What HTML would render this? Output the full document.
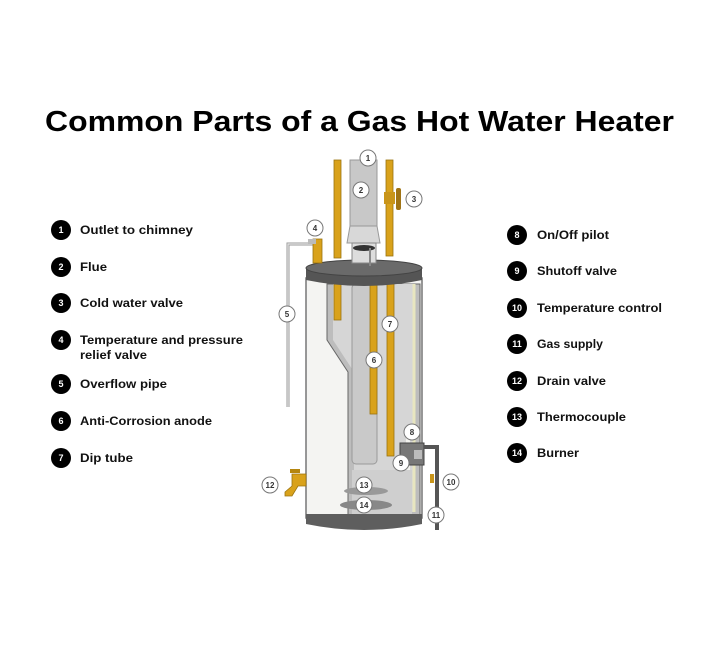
<!DOCTYPE html>
<html><head><meta charset="utf-8"><style>
html,body{margin:0;padding:0;background:#fff;width:720px;height:647px;overflow:hidden}
svg{display:block}
.t{font-family:"Liberation Sans",sans-serif;font-weight:bold;font-size:11.5px;fill:#111}
.n{font-family:"Liberation Sans",sans-serif;font-weight:bold;font-size:9px;fill:#fff;text-anchor:middle}
.m{font-family:"Liberation Sans",sans-serif;font-weight:bold;font-size:8px;fill:#333;text-anchor:middle}
</style></head><body>
<svg width="720" height="647" viewBox="0 0 720 647" xmlns="http://www.w3.org/2000/svg">
<text x="45" y="131" textLength="629" lengthAdjust="spacingAndGlyphs" font-family="Liberation Sans,sans-serif" font-weight="bold" font-size="29" fill="#000">Common Parts of a Gas Hot Water Heater</text>

<!-- overflow pipe -->
<path d="M313 244 H288 V407" fill="none" stroke="#999" stroke-width="3"/>
<path d="M313 244 H288 V407" fill="none" stroke="#e6e6e6" stroke-width="1.2"/>

<!-- body -->
<rect x="306" y="278" width="116" height="240" fill="#f4f4f2" stroke="#777" stroke-width="1.5"/>
<!-- cutaway -->
<path d="M327 284 H420 V516 H348 V372 L327 340 Z" fill="#bdbdbd" stroke="#666" stroke-width="1"/>
<path d="M333 284 H414 V512 H354 V372 L333 340 Z" fill="#d6d6d6"/>
<path d="M414 284 V512" stroke="#e8e6c0" stroke-width="3"/>
<path d="M408 430 V512" stroke="#f2f2ee" stroke-width="4"/>
<!-- flue inside -->
<rect x="352" y="284" width="25" height="180" rx="4" fill="#c9c9c9" stroke="#999" stroke-width="1"/>
<!-- burner area -->
<rect x="352" y="470" width="60" height="44" fill="#cfcfcf"/>
<ellipse cx="366" cy="491" rx="22" ry="4" fill="#999"/>
<ellipse cx="366" cy="505" rx="26" ry="5" fill="#888"/>
<!-- bottom band -->
<path d="M306 514 H422 V524 Q364 536 306 524 Z" fill="#5e5e5e"/>

<!-- inner pipes -->
<rect x="334" y="284" width="7" height="36" fill="#d9a21b" stroke="#9a7410" stroke-width="0.8"/>
<rect x="370" y="284" width="7" height="130" fill="#d9a21b" stroke="#9a7410" stroke-width="0.8"/>
<rect x="387" y="284" width="7" height="172" fill="#d9a21b" stroke="#9a7410" stroke-width="0.8"/>

<!-- lid -->
<path d="M306 268 V280 Q364 292 422 280 V268 Z" fill="#555"/>
<ellipse cx="364" cy="268" rx="58" ry="8" fill="#6a6a6a" stroke="#444" stroke-width="1"/>

<!-- flue above -->
<rect x="350" y="160" width="27" height="66" fill="#c8c8c8" stroke="#999" stroke-width="1"/>
<path d="M350 226 L347 243 H380 L377 226 Z" fill="#d8d8d8" stroke="#999" stroke-width="1"/>
<rect x="352" y="243" width="24" height="20" fill="#ddd" stroke="#888" stroke-width="1"/>
<ellipse cx="364" cy="248" rx="11" ry="3" fill="#333"/>
<rect x="369" y="248" width="2" height="18" fill="#888"/>
<!-- outer pipes -->
<rect x="334" y="160" width="7" height="98" fill="#d9a21b" stroke="#9a7410" stroke-width="0.8"/>
<rect x="386" y="160" width="7" height="96" fill="#d9a21b" stroke="#9a7410" stroke-width="0.8"/>
<rect x="384" y="192" width="11" height="12" fill="#c9951a"/>
<rect x="396" y="188" width="5" height="22" rx="2" fill="#a07415"/>
<!-- T&P valve -->
<rect x="313" y="239" width="9" height="24" fill="#d9a21b" stroke="#9a7410" stroke-width="0.8"/>
<rect x="308" y="239" width="8" height="5" fill="#bbb"/>

<!-- drain valve -->
<path d="M306 474 H292 V486 L285 492 V496 H292 L298 486 H306 Z" fill="#d9a21b" stroke="#9a7410" stroke-width="0.8"/>
<rect x="290" y="469" width="10" height="4" fill="#b5860f"/>

<!-- gas control -->
<rect x="400" y="443" width="24" height="22" fill="#777" stroke="#444" stroke-width="1"/>
<rect x="414" y="450" width="8" height="9" fill="#bbb"/>
<path d="M424 447 H437 V530" fill="none" stroke="#555" stroke-width="4"/>
<rect x="430" y="474" width="4" height="9" fill="#c9951a"/>

<!-- diagram markers -->
<g fill="#fff" stroke="#777" stroke-width="1">
<circle cx="368" cy="158" r="8"/><circle cx="361" cy="190" r="8"/><circle cx="414" cy="199" r="8"/>
<circle cx="315" cy="228" r="8"/><circle cx="287" cy="314" r="8"/><circle cx="374" cy="360" r="8"/>
<circle cx="390" cy="324" r="8"/><circle cx="412" cy="432" r="8"/><circle cx="401" cy="463" r="8"/>
<circle cx="451" cy="482" r="8"/><circle cx="436" cy="515" r="8"/><circle cx="270" cy="485" r="8"/>
<circle cx="364" cy="485" r="8"/><circle cx="364" cy="505" r="8"/>
</g>
<text class="m" x="368" y="161">1</text><text class="m" x="361" y="193">2</text><text class="m" x="414" y="202">3</text>
<text class="m" x="315" y="231">4</text><text class="m" x="287" y="317">5</text><text class="m" x="374" y="363">6</text>
<text class="m" x="390" y="327">7</text><text class="m" x="412" y="435">8</text><text class="m" x="401" y="466">9</text>
<text class="m" x="451" y="485">10</text><text class="m" x="436" y="518">11</text><text class="m" x="270" y="488">12</text>
<text class="m" x="364" y="488">13</text><text class="m" x="364" y="508">14</text>

<!-- left legend -->
<g fill="#000">
<circle cx="61" cy="230" r="10"/><circle cx="61" cy="267" r="10"/><circle cx="61" cy="303" r="10"/>
<circle cx="61" cy="340" r="10"/><circle cx="61" cy="384" r="10"/><circle cx="61" cy="421" r="10"/>
<circle cx="61" cy="458" r="10"/>
<circle cx="517" cy="235" r="10"/><circle cx="517" cy="271" r="10"/><circle cx="517" cy="308" r="10"/>
<circle cx="517" cy="344" r="10"/><circle cx="517" cy="381" r="10"/><circle cx="517" cy="417" r="10"/>
<circle cx="517" cy="453" r="10"/>
</g>
<text class="n" x="61" y="233">1</text><text class="n" x="61" y="270">2</text><text class="n" x="61" y="306">3</text>
<text class="n" x="61" y="343">4</text><text class="n" x="61" y="387">5</text><text class="n" x="61" y="424">6</text>
<text class="n" x="61" y="461">7</text>
<text class="n" x="517" y="238">8</text><text class="n" x="517" y="274">9</text><text class="n" x="517" y="311">10</text>
<text class="n" x="517" y="347">11</text><text class="n" x="517" y="384">12</text><text class="n" x="517" y="420">13</text>
<text class="n" x="517" y="456">14</text>

<text class="t" x="80" y="234" textLength="113" lengthAdjust="spacingAndGlyphs">Outlet to chimney</text>
<text class="t" x="80" y="271" textLength="27" lengthAdjust="spacingAndGlyphs">Flue</text>
<text class="t" x="80" y="307" textLength="103" lengthAdjust="spacingAndGlyphs">Cold water valve</text>
<text class="t" x="80" y="344" textLength="163" lengthAdjust="spacingAndGlyphs">Temperature and pressure</text>
<text class="t" x="80" y="359" textLength="67" lengthAdjust="spacingAndGlyphs">relief valve</text>
<text class="t" x="80" y="388" textLength="87" lengthAdjust="spacingAndGlyphs">Overflow pipe</text>
<text class="t" x="80" y="425" textLength="132" lengthAdjust="spacingAndGlyphs">Anti-Corrosion anode</text>
<text class="t" x="80" y="462" textLength="53" lengthAdjust="spacingAndGlyphs">Dip tube</text>

<text class="t" x="537" y="239" textLength="72" lengthAdjust="spacingAndGlyphs">On/Off pilot</text>
<text class="t" x="537" y="275" textLength="80" lengthAdjust="spacingAndGlyphs">Shutoff valve</text>
<text class="t" x="537" y="312" textLength="125" lengthAdjust="spacingAndGlyphs">Temperature control</text>
<text class="t" x="537" y="348" textLength="66" lengthAdjust="spacingAndGlyphs">Gas supply</text>
<text class="t" x="537" y="385" textLength="69" lengthAdjust="spacingAndGlyphs">Drain valve</text>
<text class="t" x="537" y="421" textLength="89" lengthAdjust="spacingAndGlyphs">Thermocouple</text>
<text class="t" x="537" y="457" textLength="42" lengthAdjust="spacingAndGlyphs">Burner</text>
</svg>
</body></html>
